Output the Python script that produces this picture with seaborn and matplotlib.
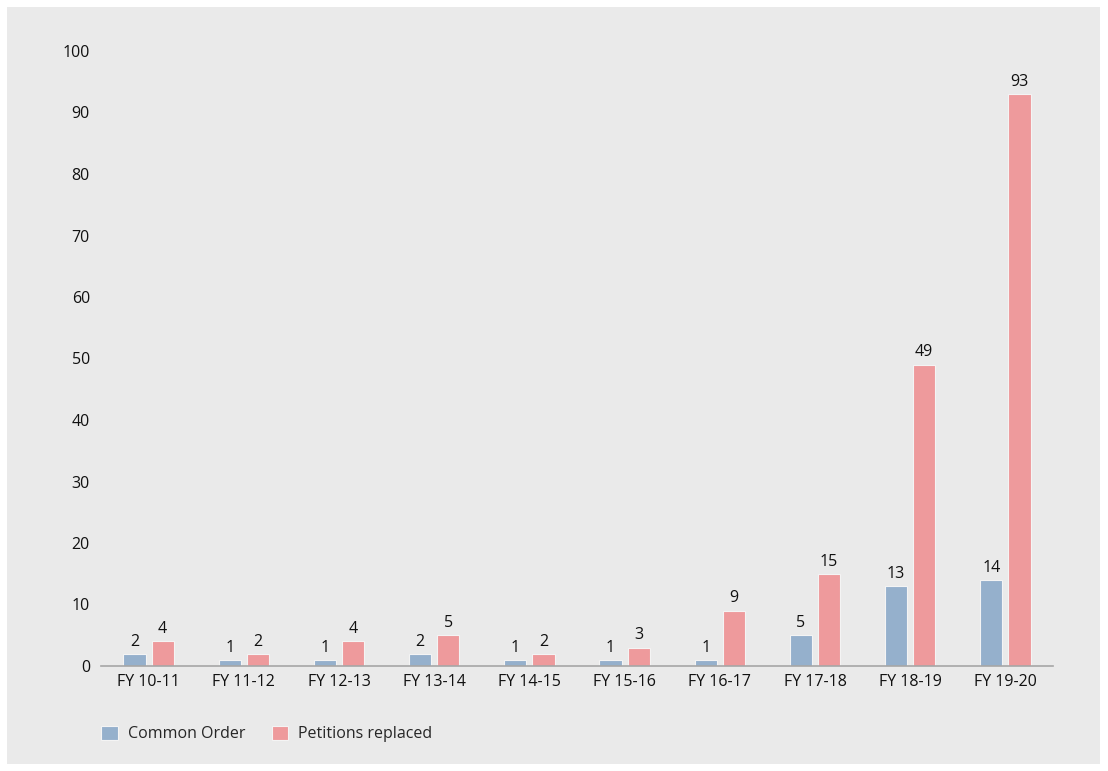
import matplotlib
matplotlib.use("Agg")
import matplotlib.pyplot as plt
import seaborn as sns
import pandas as pd
from matplotlib.patches import Rectangle

years = ["FY 10-11", "FY 11-12", "FY 12-13", "FY 13-14", "FY 14-15",
         "FY 15-16", "FY 16-17", "FY 17-18", "FY 18-19", "FY 19-20"]
common_order = [2, 1, 1, 2, 1, 1, 1, 5, 13, 14]
petitions_replaced = [4, 2, 4, 5, 2, 3, 9, 15, 49, 93]
series_names = ["Common Order", "Petitions replaced"]
colors = ["#95B0CC", "#EE9A9C"]

df = pd.DataFrame({
    "year": years * 2,
    "value": common_order + petitions_replaced,
    "series": [series_names[0]] * len(years) + [series_names[1]] * len(years),
})

sns.set_style("white")
plt.rcParams["font.family"] = ["Open Sans", "DejaVu Sans"]

FS = 11.5
W, H = 1108, 771
fig = plt.figure(figsize=(W / 100, H / 100), dpi=100, facecolor="white")
fig.patches.append(Rectangle((7 / W, 7 / H), (1100 - 7) / W, (764 - 7) / H,
                             transform=fig.transFigure, facecolor="#EAEAEA",
                             edgecolor="none", zorder=-10))

ax = fig.add_axes([101 / W, 1 - 666 / H, (1053 - 101) / W, (666 - 51) / H])
ax.set_facecolor("none")
ax.set_zorder(1)

sns.barplot(data=df, x="year", y="value", hue="series", palette=colors,
            saturation=1, width=0.59, gap=0.21, ax=ax, edgecolor="#F4F4F4",
            linewidth=0.8, legend=True)

for cont in ax.containers:
    ax.bar_label(cont, padding=3, fontsize=FS, color="#111111")

ax.set_ylim(0, 100)
ax.set_yticks(range(0, 101, 10))
ax.set_xlim(-0.5, len(years) - 0.5)
ax.set_xlabel("")
ax.set_ylabel("")
for s in ["top", "right", "left"]:
    ax.spines[s].set_visible(False)
ax.spines["bottom"].set_color("#A6A6A6")
ax.spines["bottom"].set_linewidth(1.2)
ax.tick_params(axis="both", length=0, labelsize=FS, colors="#111111")
ax.tick_params(axis="y", pad=8)
ax.tick_params(axis="x", pad=6)

handles, labels = ax.get_legend_handles_labels()
ax.get_legend().remove()
fig.legend(handles, labels, loc="center left", bbox_to_anchor=(87 / W, 1 - 734 / H),
           ncol=2, frameon=False, fontsize=FS, handlelength=1.05, handleheight=1.05,
           handletextpad=0.6, columnspacing=1.65)

fig.savefig("out.png", dpi=100, facecolor="white")
